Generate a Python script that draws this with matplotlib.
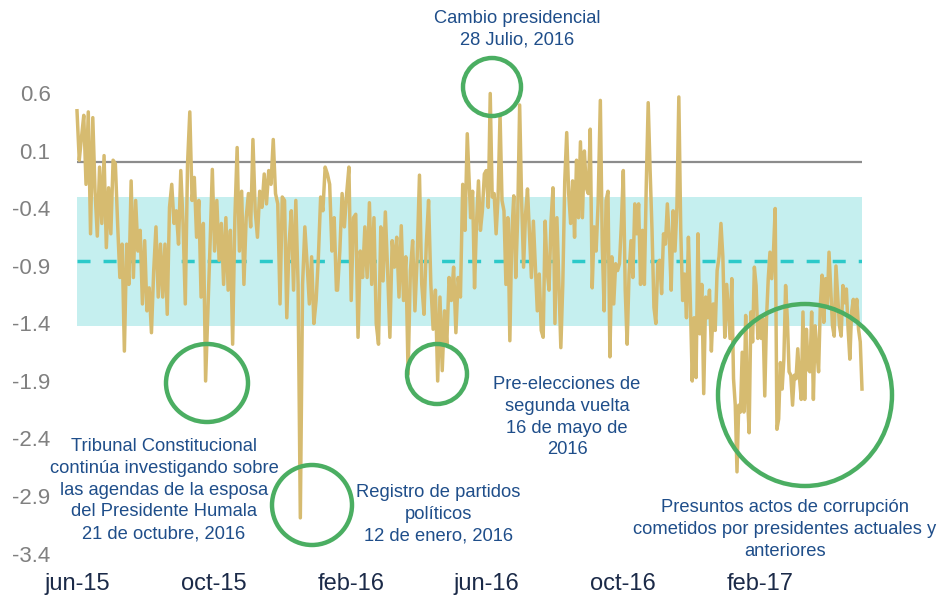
import matplotlib
matplotlib.use("Agg")
import matplotlib.pyplot as plt
from matplotlib.patches import Ellipse
import pandas as pd
import numpy as np

# ---- data (index values) ----
seg1_dates = ("2015-06-01", "2015-09-24")
seg1 = [0.45, 0.02, 0.22, 0.41, -0.19, 0.44, -0.62, 0.39, -0.25, -0.64, -0.04, -0.53,
        0.06, -0.74, -0.22, -0.62, 0.02, -0.01, -0.53, -1.00, -0.71, -1.64, -0.71, -1.06,
        -0.16, -1.00, -0.33, -0.77, -0.59, -1.23, -0.68, -1.29, -1.09, -1.48, -0.94, -0.56,
        -1.17, -0.71, -1.17, -0.71, -1.32, -0.39, -0.19, -0.53, -0.42, -0.71, -0.07, -0.53,
        -1.23, -0.01, 0.44, -0.33, -0.13, -0.65, -0.33, -1.17, -0.53, -1.90]
seg2_dates = ("2015-09-28", "2016-01-19")
seg2 = [-0.71, -0.06, -0.77, -0.33, -0.85, -0.53, -1.06, -0.48, -1.11, -0.59, -1.58, -0.48,
        0.13, -0.77, -0.25, -1.06, -0.48, -0.27, -0.56, 0.20, -0.42, -0.65, -0.25, -0.39,
        -0.10, -0.36, -0.07, -0.19, 0.20, -0.27, -0.36, -1.23, -0.30, -0.33, -1.35, -0.71,
        -0.42, -1.11, -0.33, -1.06, -3.09, -1.06, -0.56, -0.88, -1.23, -0.82, -1.40, -1.20,
        -0.82, -0.30, -0.42, -0.04, -0.10, -0.19, -0.77, -0.48, -1.11]
seg3_dates = ("2016-01-20", "2016-05-15")
seg3 = [-1.11, -0.77, -0.27, -0.56, -0.27, -0.04, -1.20, -0.48, -0.45, -1.52, -0.77, -1.00,
        -0.56, -1.00, -0.35, -1.06, -0.48, -1.40, -1.58, -0.56, -1.03, -0.43, -0.94, -1.52,
        -0.68, -0.91, -0.65, -1.17, -0.55, -1.20, -0.82, -1.84, -0.94, -0.68, -1.29, -0.82,
        -0.11, -1.06, -1.32, -0.71, -0.33, -1.06, -1.45, -1.11, -1.90, -1.17, -1.81, -1.29,
        -1.58, -1.00, -1.20, -0.91, -1.48, -1.00, -1.17, -0.19, -0.59, 0.25]
seg4_dates = ("2016-05-18", "2016-09-09")
seg4 = [-0.48, -0.25, -1.09, -0.53, -0.16, -0.59, -0.42, -0.10, -0.07, -0.39, 0.60, -0.30,
        -0.27, -0.62, -0.30, 0.42, -0.33, -0.42, -1.06, -0.48, -1.55, -0.62, -0.29, -1.00,
        -0.48, 0.50, -0.33, -0.91, -0.45, -0.23, -0.62, -1.00, -0.51, -0.91, -1.29, -0.97,
        -1.46, -1.52, -0.51, -0.94, -1.11, -0.51, -0.22, -1.40, -0.48, -1.06, -1.61, -1.06,
        -0.16, 0.26, -0.27, -0.53, -0.16, -0.65, 0.02, -0.48, 0.18, -0.48, 0.10, -0.22,
        -0.27, 0.29, -1.09, -0.56, -0.77, -0.36]
seg5_dates = ("2016-09-11", "2017-01-02")
seg5 = [0.54, -0.71, -1.29, -0.33, -0.25, -1.69, -0.82, -1.23, -0.88, -0.94, -0.88, -0.53,
        -0.07, -1.11, -1.58, -0.97, -0.68, -1.00, -0.36, -0.62, -0.36, -1.06, -0.59, -1.06,
        -0.19, 0.52, -0.07, -0.59, -1.26, -1.40, -0.88, -0.85, -1.14, -0.62, -0.71, -0.36,
        -0.65, -1.11, -0.42, -0.77, -0.39, 0.57, -0.59, -1.20, -0.97, -1.35, -0.65, -1.20,
        -1.90, -1.35, -1.87, -0.62, -1.49, -1.06, -2.01, -1.17, -1.35, -1.11, -1.64, -1.23,
        -1.46, -0.94, -0.82, -0.53, -0.82, -1.52, -1.06]
seg6_dates = ("2017-01-05", "2017-05-03")
seg6 = [-1.53, -1.01, -1.88, -2.11, -2.69, -2.11, -2.17, -1.65, -2.17, -1.33, -2.03, -2.35,
        -1.30, -1.56, -0.91, -1.07, -1.53, -1.36, -1.53, -1.36, -2.03, -1.36, -1.01, -0.78,
        -1.01, -0.78, -0.40, -2.32, -2.23, -1.74, -1.97, -1.71, -1.07, -1.36, -1.82, -1.85,
        -2.11, -1.85, -1.88, -1.62, -1.88, -2.06, -1.30, -2.06, -1.45, -1.80, -1.82, -1.30,
        -2.06, -1.42, -1.65, -1.82, -1.24, -0.98, -1.39, -1.01, -1.24, -0.78, -1.10, -1.42,
        -1.51, -0.90, -1.16, -1.42, -1.51, -1.07, -1.22, -1.10, -1.45, -1.71, -1.30, -1.19,
        -1.36, -1.19, -1.45, -1.56, -1.97]

mean_value = -0.86
band_low, band_high = -1.42, -0.30
ref_line = 0.0

y_ticks = [0.6, 0.1, -0.4, -0.9, -1.4, -1.9, -2.4, -2.9, -3.4]
x_tick_dates = ["2015-06-01", "2015-10-01", "2016-02-01", "2016-06-01", "2016-10-01", "2017-02-01"]
x_tick_labels = ["jun-15", "oct-15", "feb-16", "jun-16", "oct-16", "feb-17"]

# ---- build series ----
parts = []
for (d0, d1), vals in [(seg1_dates, seg1), (seg2_dates, seg2), (seg3_dates, seg3),
                       (seg4_dates, seg4), (seg5_dates, seg5), (seg6_dates, seg6)]:
    idx = pd.date_range(d0, d1, periods=len(vals))
    parts.append(pd.Series(vals, index=idx))
series = pd.concat(parts)

# ---- figure ----
W, H = 945, 600
fig = plt.figure(figsize=(W / 100, H / 100), dpi=100)
fig.patch.set_facecolor("white")

left_px, right_px, top_px, bot_px = 77, 862, 93.5, 553.5
ax = fig.add_axes([left_px / W, 1 - bot_px / H, (right_px - left_px) / W, (bot_px - top_px) / H])
ax.set_facecolor("none")

x0 = pd.Timestamp(seg1_dates[0])
x1 = pd.Timestamp(seg6_dates[1])
ax.set_xlim(x0, x1)
ax.set_ylim(-3.4, 0.6)

ax.axhspan(band_low, band_high, color="#C5EFEF", lw=0, zorder=1)
ax.axhline(ref_line, color="#8C8C8C", lw=1.6, zorder=2)
ax.axhline(mean_value, color="#2CC9C9", lw=2.5, zorder=2, dashes=(3.75, 3.75))
ax.plot(series.index, series.values, color="#D6BB70", lw=2.5, zorder=3,
        solid_joinstyle="round", clip_on=False)

for s in ax.spines.values():
    s.set_visible(False)
ax.set_yticks(y_ticks)
ax.set_yticklabels([f"{t:.1f}" for t in y_ticks], fontsize=16, color="#808080",
                   family=["Liberation Sans", "DejaVu Sans"])
ax.tick_params(axis="y", length=0, pad=19)
ax.set_xticks(pd.to_datetime(x_tick_dates))
ax.set_xticklabels(x_tick_labels, fontsize=17, color="#1B2A48",
                   family=["Liberation Sans", "DejaVu Sans"])
ax.tick_params(axis="x", length=0, pad=14)

# ---- overlay for annotations (pixel coordinates) ----
ov = fig.add_axes([0, 0, 1, 1])
ov.set_xlim(0, W)
ov.set_ylim(H, 0)
ov.axis("off")
ov.patch.set_alpha(0)

green = "#4BAE62"
circles = [(207, 383, 41, 39), (312, 505, 40, 40), (437, 374, 30, 30),
           (492, 87, 29, 29), (805, 395, 87, 91)]
for cx, cy, rx, ry in circles:
    ov.add_patch(Ellipse((cx, cy), 2 * rx, 2 * ry, fill=False, ec=green, lw=3.2, zorder=5))

tc = "#1F4E8A"
tfont = dict(fontsize=13.2, color=tc, ha="center", va="top", linespacing=1.37,
             family=["Liberation Sans", "DejaVu Sans"])
ov.text(517, 10, "Cambio presidencial\n28 Julio, 2016", **tfont)
ov.text(164, 438, "Tribunal Constitucional\ncontinúa investigando sobre\nlas agendas de la esposa\n"
        "del Presidente Humala\n21 de octubre, 2016", **tfont)
ov.text(438, 484, "Registro de partidos\npolíticos\n12 de enero, 2016", **tfont)
ov.text(567, 376, "Pre-elecciones de\nsegunda vuelta\n16 de mayo de\n2016", **tfont)
ov.text(785, 499, "Presuntos actos de corrupción\ncometidos por presidentes actuales y\nanteriores", **tfont)

fig.savefig("out.png", dpi=100, facecolor="white")
